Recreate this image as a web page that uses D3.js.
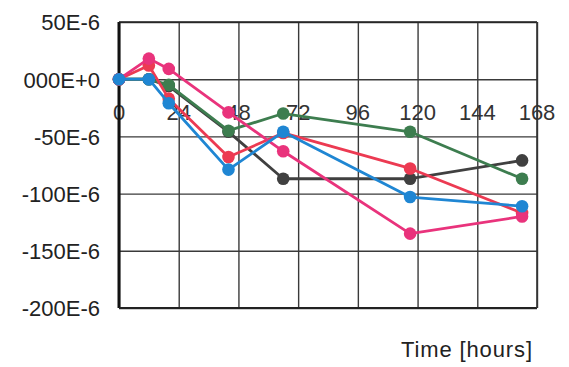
<!DOCTYPE html>
<html>
<head>
<meta charset="utf-8">
<script src="https://cdn.jsdelivr.net/npm/d3@7"></script>
<style>
  html, body { margin: 0; padding: 0; background: #fff; }
  svg { display: block; }
  text { font-family: "Liberation Sans", Arial, sans-serif; }
</style>
</head>
<body>
<svg id="chart" width="569" height="367"></svg>
<script>
// Sampling times (hours)
const hours = [0, 12, 20, 44, 66, 117, 162];

// Strain values, in units of 1E-6
const seriesBlack = [0, 0, -6, -46, -87, -87, -71];
const seriesGreen = [0, 0, -5, -45, -30, -46, -87];
const seriesRed   = [0, 12, -17, -68, -47, -78, -117];
const seriesPink  = [0, 18, 9, -29, -63, -135, -120];
const seriesBlue  = [0, 0, -21, -79, -46, -103, -111];

// Axis ticks
const xTicks = [0, 24, 48, 72, 96, 120, 144, 168];
const yTicks = [50, 0, -50, -100, -150, -200];
const yTickLabels = ["50E-6", "000E+0", "-50E-6", "-100E-6", "-150E-6", "-200E-6"];
const xTitle = "Time [hours]";

const series = [
  { values: seriesBlack, color: "#404040" },
  { values: seriesGreen, color: "#3d7d4f" },
  { values: seriesRed,   color: "#ec3a52" },
  { values: seriesPink,  color: "#e9337c" },
  { values: seriesBlue,  color: "#1f86d3" }
];

const svg = d3.select("#chart");
const plotLeft = 119, plotRight = 537, plotTop = 22, plotBottom = 308;
const fontSize = 22;

const x = d3.scaleLinear().domain([0, 168]).range([plotLeft, plotRight]);
const y = d3.scaleLinear().domain([-200, 50]).range([plotBottom, plotTop]);

// Horizontal grid + y labels
const yAxis = d3.axisLeft(y)
  .tickValues(yTicks)
  .tickSize(-(plotRight - plotLeft))
  .tickPadding(19)
  .tickFormat((d, i) => yTickLabels[i]);
const gy = svg.append("g").attr("transform", `translate(${plotLeft},0)`).call(yAxis);
gy.select(".domain").remove();
gy.selectAll(".tick line").attr("stroke", "#3a3a3a").attr("stroke-width", 1.4);
gy.selectAll(".tick text")
  .attr("font-size", fontSize)
  .attr("font-family", "Liberation Sans, Arial, sans-serif")
  .attr("fill", "#222")
  .attr("dy", "0.36em");

// Vertical grid
const xGrid = d3.axisBottom(x)
  .tickValues(xTicks)
  .tickSize(-(plotBottom - plotTop))
  .tickFormat("");
const gx = svg.append("g").attr("transform", `translate(0,${plotBottom})`).call(xGrid);
gx.select(".domain").remove();
gx.selectAll(".tick line").attr("stroke", "#3a3a3a").attr("stroke-width", 1.4);

// x tick labels sit inside the plot, just below the zero line
svg.append("g")
  .selectAll("text")
  .data(xTicks)
  .join("text")
  .attr("x", d => x(d))
  .attr("y", y(-29))
  .attr("text-anchor", "middle")
  .attr("dy", "0.36em")
  .attr("font-size", fontSize)
  .attr("fill", "#333")
  .text(d => d);

// Plot frame: heavy left axis, lighter other sides
svg.append("line")
  .attr("x1", plotLeft).attr("x2", plotLeft).attr("y1", plotTop).attr("y2", plotBottom)
  .attr("stroke", "#111").attr("stroke-width", 3);
svg.append("line")
  .attr("x1", plotLeft).attr("x2", plotRight).attr("y1", plotBottom).attr("y2", plotBottom)
  .attr("stroke", "#222").attr("stroke-width", 2);
svg.append("line")
  .attr("x1", plotLeft).attr("x2", plotRight).attr("y1", plotTop).attr("y2", plotTop)
  .attr("stroke", "#222").attr("stroke-width", 1.6);
svg.append("line")
  .attr("x1", plotRight).attr("x2", plotRight).attr("y1", plotTop).attr("y2", plotBottom)
  .attr("stroke", "#333").attr("stroke-width", 1.6);

// Data lines and markers
const line = d3.line()
  .x((d, i) => x(hours[i]))
  .y(d => y(d));

series.forEach(s => {
  const g = svg.append("g");
  g.append("path")
    .datum(s.values)
    .attr("d", line)
    .attr("fill", "none")
    .attr("stroke", s.color)
    .attr("stroke-width", 2.8)
    .attr("stroke-linejoin", "round");
  g.selectAll("circle")
    .data(s.values)
    .join("circle")
    .attr("cx", (d, i) => x(hours[i]))
    .attr("cy", d => y(d))
    .attr("r", 6.3)
    .attr("fill", s.color);
});

// x-axis title
svg.append("text")
  .attr("x", 401)
  .attr("y", 357)
  .attr("font-size", fontSize)
  .attr("textLength", 131)
  .attr("fill", "#222")
  .text(xTitle);
</script>
</body>
</html>
